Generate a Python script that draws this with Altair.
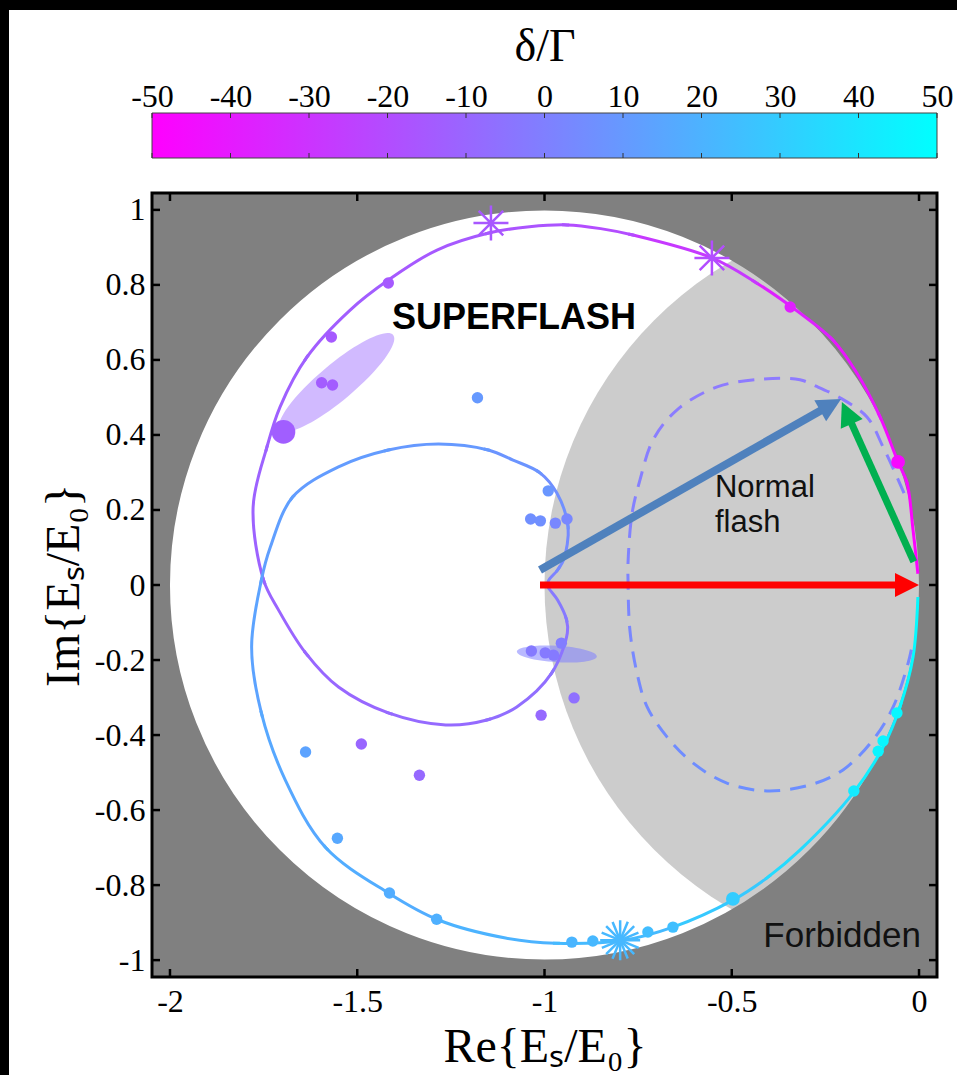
import math
import altair as alt
import pandas as pd

# ------------------------------------------------------------------ data
# theoretical trajectory of E_s/E_0 (colour = detuning delta/Gamma)
curve_re = [-0.003, -0.016, -0.032, -0.056, -0.104, -0.166, -0.230, -0.318, -0.435, -0.553,
            -0.764, -0.850, -0.940, -1.040, -1.146, -1.287, -1.417, -1.519, -1.634, -1.706,
            -1.741, -1.778, -1.750, -1.710, -1.638, -1.550, -1.417, -1.264, -1.154, -1.074,
            -0.981, -0.939, -0.941, -0.965, -0.990, -0.990, -0.965, -0.949, -0.937, -0.967,
            -1.012, -1.084, -1.150, -1.283, -1.417, -1.550, -1.672, -1.732, -1.756, -1.782,
            -1.756, -1.692, -1.585, -1.417, -1.283, -1.104, -0.971, -0.790, -0.657, -0.497,
            -0.405, -0.318, -0.176, -0.096, -0.051, -0.016, -0.003]
curve_im = [0.030, 0.147, 0.272, 0.328, 0.448, 0.565, 0.653, 0.725, 0.806, 0.872,
            0.933, 0.950, 0.960, 0.955, 0.939, 0.893, 0.813, 0.733, 0.608, 0.475,
            0.368, 0.208, 0.013, -0.067, -0.181, -0.272, -0.341, -0.373, -0.360, -0.325,
            -0.235, -0.128, -0.093, -0.040, -0.005, 0.010, 0.040, 0.067, 0.155, 0.245,
            0.299, 0.333, 0.360, 0.376, 0.360, 0.315, 0.235, 0.101, 0.013, -0.165,
            -0.341, -0.520, -0.699, -0.821, -0.893, -0.941, -0.955, -0.947, -0.912, -0.840,
            -0.780, -0.707, -0.555, -0.432, -0.325, -0.192, -0.032]
curve_delta = [-50, -49, -47, -46, -44, -42, -40, -38, -33, -28,
               -22, -20, -18, -17, -16, -15, -14, -13.5, -13, -12.5,
               -12, -11.5, -11, -10.5, -10, -9.5, -9, -8.5, -8, -7,
               -6, -5, -4, -3, -1, 1, 3, 4, 5, 6,
               7, 8, 9, 10, 10.5, 11, 12, 12.5, 13, 14,
               15, 16, 17, 18, 19, 20, 21, 23, 25, 30,
               32, 35, 41, 44, 46, 48, 50]

# dashed "normal flash" trajectory
dash_re = [-0.040, -0.059, -0.096, -0.139, -0.211, -0.275, -0.318, -0.417, -0.539, -0.646,
           -0.710, -0.745, -0.766, -0.777, -0.777, -0.772, -0.753, -0.726, -0.673, -0.603,
           -0.513, -0.406, -0.291, -0.203, -0.123, -0.069, -0.029, -0.019]
dash_im = [0.245, 0.288, 0.368, 0.448, 0.499, 0.530, 0.547, 0.549, 0.528, 0.467,
           0.387, 0.280, 0.192, 0.059, 0.013, -0.120, -0.235, -0.325, -0.405, -0.475,
           -0.528, -0.549, -0.533, -0.493, -0.413, -0.325, -0.208, -0.165]

# measured points
dot_re = [-1.417, -1.569, -1.595, -1.566, -1.697, -1.179, -0.990, -1.037, -1.011, -0.971,
          -0.940, -1.035, -0.998, -0.976, -0.955, -0.921, -1.009, -1.638, -1.489, -1.334,
          -1.553, -1.414, -1.288, -0.927, -0.871, -0.724, -0.657, -0.497, -0.174, -0.109,
          -0.096, -0.059, -0.056, -0.344]
dot_im = [0.805, 0.661, 0.539, 0.533, 0.408, 0.499, 0.251, 0.176, 0.171, 0.165,
          0.176, -0.176, -0.181, -0.187, -0.155, -0.301, -0.347, -0.445, -0.424, -0.507,
          -0.675, -0.821, -0.891, -0.952, -0.949, -0.925, -0.912, -0.837, -0.549, -0.443,
          -0.416, -0.341, 0.328, 0.741]
dot_delta = [-15, -15, -14, -14, -13, 10, 9, 6, 6, 3,
             3, -2, -2, -2, -1, -6, -9, 14, -10, -9,
             16, 18, 19, 21, 22, 24, 25, 30, 42, 46,
             46, 47, -47, -38]

# asterisk points
star_re = [-1.143, -0.553, -0.798]
star_im = [0.965, 0.872, -0.947]
star_delta = [-16, -20, 22]

# uncertainty ellipses (centre, semi-axes in data units, tilt in degrees ccw)
ellipse_re = [-1.555, -0.967]
ellipse_im = [0.540, -0.184]
ellipse_semi_major = [0.197, 0.107]
ellipse_semi_minor = [0.048, 0.022]
ellipse_tilt = [40.0, -3.5]

# regions: allowed disk |E_s + E_0| <= E_0 and normal-flash disk |E_s| <= E_0
allowed_center = [-1.0, 0.0]
normal_center = [0.0, 0.0]
disk_radius = 1.0

# phasor arrows
arrow_re0 = [-1.012, -1.012, -0.014]
arrow_im0 = [0.000, 0.040, 0.062]
arrow_re1 = [0.000, -0.208, -0.206]
arrow_im1 = [0.000, 0.496, 0.488]

x_ticks = [-2, -1.5, -1, -0.5, 0]
y_ticks = [-1, -0.8, -0.6, -0.4, -0.2, 0, 0.2, 0.4, 0.6, 0.8, 1]
cbar_ticks = [-50, -40, -30, -20, -10, 0, 10, 20, 30, 40, 50]

# ------------------------------------------------------------------ style / layout
W, H = 785, 784
PAD = {"left": 152, "top": 193, "right": 20, "bottom": 98}
XDOM = [-2.048, 0.048]
YDOM = [-1.045, 1.045]
KX = W / (XDOM[1] - XDOM[0])
KY = H / (YDOM[1] - YDOM[0])
SERIF = "Liberation Serif"
SANS = "Liberation Sans"
DARK = "#808080"
LIGHT = "#cccccc"
TICK_FONT = 32

DOT_SIZE = [130] * len(dot_re)
DOT_SIZE[4] = 560
DOT_SIZE[27] = 190
DOT_SIZE[32] = 190
STAR_SIZE = [1225, 1225, 1600]
BURST = [2]  # asterisk drawn as a denser burst
ARROW_COLOR = ["#ff0000", "#4f81bd", "#00b050"]
ARROW_WIDTH = [7, 8, 7]
ELLIPSE_COLOR = ["#9966ff", "#7f80ff"]
ELLIPSE_OPACITY = [0.45, 0.55]
ASTERISK = "M-1,0L1,0M0,-1L0,1M-0.7,-0.7L0.7,0.7M-0.7,0.7L0.7,-0.7"
HEAD = "M0,0L0.5,1L-0.5,1Z"
HEAD_LEN = 24
PIECE = 2  # segments per colour piece of the trajectory

xs = alt.Scale(domain=XDOM, nice=False, zero=False)
ys = alt.Scale(domain=YDOM, nice=False, zero=False)
cs = alt.Scale(domain=[-50, 50], range=["#ff00ff", "#00ffff"], interpolate="rgb")
cbs = alt.Scale(domain=[-50, 50], nice=False, zero=False)

NEG = "(datum.value < 0 ? '-' : '') + format(abs(datum.value), '~g')"
xa = alt.Axis(values=x_ticks, labelExpr=NEG, ticks=False, tickSize=0, domain=False, grid=False,
              labelFont=SERIF, labelFontSize=TICK_FONT, labelColor="black", labelPadding=9,
              labelOverlap=False, labelFlush=False,
              title="Re{Eₛ/E₀}", titleFont=SERIF, titleFontSize=48, titleFontWeight="normal",
              titleColor="black", titlePadding=6, zindex=1)
ya = alt.Axis(values=y_ticks, labelExpr=NEG, ticks=False, tickSize=0, domain=False, grid=False,
              labelFont=SERIF, labelFontSize=TICK_FONT, labelColor="black", labelPadding=7,
              labelOverlap=False, labelFlush=False,
              title="Im{Eₛ/E₀}", titleFont=SERIF, titleFontSize=48, titleFontWeight="normal",
              titleColor="black", titlePadding=6, zindex=1)
cba = alt.Axis(orient="top", offset=80, values=cbar_ticks, labelExpr=NEG, ticks=False, tickSize=0,
               domain=False, grid=False, labelFont=SERIF, labelFontSize=TICK_FONT,
               labelColor="black", labelPadding=0, labelOverlap=False, labelFlush=False,
               title="δ/Γ", titleFont=SERIF, titleFontSize=46, titleFontWeight="normal",
               titleColor="black", titlePadding=10, zindex=1)


def X(f):
    return alt.X(f, type="quantitative", scale=xs, axis=xa)


def Y(f):
    return alt.Y(f, type="quantitative", scale=ys, axis=ya)


color_d = alt.Color("d:Q", scale=cs, legend=None)
one = pd.DataFrame({"k": [0]})

# ------------------------------------------------------------------ layers
layers = []
# white figure background (inside the black frame)
layers.append(alt.Chart(one).mark_rect(color="white").encode(
    x=alt.value(-143), x2=alt.value(W + PAD["right"]),
    y=alt.value(-183), y2=alt.value(H + PAD["bottom"])))

# allowed disk (white), normal-flash disk (light grey), forbidden ring (dark grey)
# Vega circle symbols have radius sqrt(size)/2
layers.append(alt.Chart(pd.DataFrame({"re": [allowed_center[0]], "im": [allowed_center[1]]}))
              .mark_point(shape="circle", filled=True, color="white", opacity=1, strokeWidth=0,
                          size=(2 * disk_radius * KX) ** 2, clip=True)
              .encode(x=X("re"), y=Y("im")))
layers.append(alt.Chart(pd.DataFrame({"re": [normal_center[0]], "im": [normal_center[1]]}))
              .mark_point(shape="circle", filled=True, color=LIGHT, opacity=1, strokeWidth=0,
                          size=(2 * disk_radius * KX) ** 2, clip=True)
              .encode(x=X("re"), y=Y("im")))
layers.append(alt.Chart(pd.DataFrame({"re": [allowed_center[0]], "im": [allowed_center[1]]}))
              .mark_point(shape="circle", filled=False, color=DARK, opacity=1,
                          strokeWidth=disk_radius * KX,
                          size=(2 * 1.5 * disk_radius * KX) ** 2, clip=True)
              .encode(x=X("re"), y=Y("im")))

# ellipses
for i in range(len(ellipse_re)):
    ratio = ellipse_semi_minor[i] / ellipse_semi_major[i]
    shp = f"M-1,0A1,{ratio:.4f} 0 1,1 1,0A1,{ratio:.4f} 0 1,1 -1,0Z"
    layers.append(alt.Chart(pd.DataFrame({"re": [ellipse_re[i]], "im": [ellipse_im[i]]}))
                  .mark_point(shape=shp, filled=True, color=ELLIPSE_COLOR[i],
                              opacity=ELLIPSE_OPACITY[i], strokeWidth=0,
                              size=(2 * ellipse_semi_major[i] * KX) ** 2,
                              angle=(-ellipse_tilt[i]) % 360)
                  .encode(x=X("re"), y=Y("im")))

# colour-coded trajectory: smooth pieces drawn with one point of context on each side;
# the context parts are hidden with a dash pattern so that only the core is visible
n = len(curve_re)


def chord(a, b):
    return math.hypot((curve_re[b] - curve_re[a]) * KX, (curve_im[b] - curve_im[a]) * KY)


for s in range(0, n - 1, PIECE):
    e = min(s + PIECE, n - 1)
    j0, j1 = max(s - 1, 0), min(e + 1, n - 1)
    head = chord(j0, s) if j0 < s else 0.0
    core = sum(chord(j, j + 1) for j in range(s, e))
    gap = max(head - 2.5, 0.0)
    dash = [0, round(gap, 2), round(core + 5 + (head - gap), 2), 100000]
    dcol = sum(curve_delta[s:e + 1]) / (e - s + 1)
    piece = pd.DataFrame({"re": curve_re[j0:j1 + 1], "im": curve_im[j0:j1 + 1],
                          "i": list(range(j0, j1 + 1)), "d": [dcol] * (j1 - j0 + 1)})
    layers.append(alt.Chart(piece)
                  .mark_line(strokeWidth=3, interpolate="catmull-rom", strokeCap="butt",
                             strokeDash=dash)
                  .encode(x=X("re"), y=Y("im"), order=alt.Order("i:Q"), color=color_d))

# dashed trajectory
dash_grad = {"gradient": "linear", "x1": 0, "y1": 0, "x2": 0, "y2": 1,
             "stops": [{"offset": 0, "color": "#8e7bff"}, {"offset": 1, "color": "#6c8eff"}]}
layers.append(alt.Chart(pd.DataFrame({"re": dash_re, "im": dash_im, "i": list(range(len(dash_re)))}))
              .mark_line(stroke=dash_grad, strokeWidth=3, strokeDash=[16, 10],
                         interpolate="catmull-rom")
              .encode(x=X("re"), y=Y("im"), order=alt.Order("i:Q")))

# dots
layers.append(alt.Chart(pd.DataFrame({"re": dot_re, "im": dot_im, "d": dot_delta, "s": DOT_SIZE}))
              .mark_circle(opacity=1)
              .encode(x=X("re"), y=Y("im"), color=color_d, size=alt.Size("s:Q", scale=None)))
# asterisks
stars = pd.DataFrame({"re": star_re, "im": star_im, "d": star_delta, "s": STAR_SIZE})
layers.append(alt.Chart(stars)
              .mark_point(shape=ASTERISK, filled=False, opacity=1, strokeWidth=2.5)
              .encode(x=X("re"), y=Y("im"), color=color_d, size=alt.Size("s:Q", scale=None)))
layers.append(alt.Chart(stars.iloc[BURST])
              .mark_point(shape=ASTERISK, filled=False, opacity=1, strokeWidth=2.5, angle=22.5)
              .encode(x=X("re"), y=Y("im"), color=color_d, size=alt.Size("s:Q", scale=None)))

# arrows
rows = []
for i in range(len(arrow_re0)):
    dxp = (arrow_re1[i] - arrow_re0[i]) * KX
    dyp = (arrow_im1[i] - arrow_im0[i]) * KY
    L = math.hypot(dxp, dyp)
    ux, uy = dxp / L, dyp / L
    rows.append({
        "x0": arrow_re0[i], "y0": arrow_im0[i],
        "xs": arrow_re1[i] - ux * HEAD_LEN * 0.7 / KX,
        "ys": arrow_im1[i] - uy * HEAD_LEN * 0.7 / KY,
        "x1": arrow_re1[i], "y1": arrow_im1[i],
        "a": math.degrees(math.atan2(dxp, dyp)) % 360,
        "c": ARROW_COLOR[i], "w": ARROW_WIDTH[i]})
arr = pd.DataFrame(rows)
layers.append(alt.Chart(arr).mark_rule(strokeCap="butt").encode(
    x=X("x0"), y=Y("y0"), x2="xs:Q", y2="ys:Q",
    color=alt.Color("c:N", scale=None), strokeWidth=alt.StrokeWidth("w:Q", scale=None)))
layers.append(alt.Chart(arr).mark_point(shape=HEAD, filled=True, opacity=1, strokeWidth=0,
                                        size=(2 * HEAD_LEN) ** 2).encode(
    x=X("x1"), y=Y("y1"), color=alt.Color("c:N", scale=None),
    angle=alt.Angle("a:Q", scale=None)))

# labels
layers.append(alt.Chart(pd.DataFrame({"re": [-1.407], "im": [0.683], "t": ["SUPERFLASH"]}))
              .mark_text(font=SANS, fontSize=36, fontWeight="bold", align="left",
                         baseline="alphabetic", color="black")
              .encode(x=X("re"), y=Y("im"), text="t:N"))
layers.append(alt.Chart(pd.DataFrame({"re": [-0.545], "im": [0.235], "t": ["Normal\nflash"]}))
              .mark_text(font=SANS, fontSize=31, align="left", baseline="alphabetic",
                         color="#111111", lineBreak="\n", lineHeight=35)
              .encode(x=X("re"), y=Y("im"), text="t:N"))
layers.append(alt.Chart(pd.DataFrame({"re": [0.005], "im": [-0.965], "t": ["Forbidden"]}))
              .mark_text(font=SANS, fontSize=35, align="right", baseline="alphabetic", color="#111111")
              .encode(x=X("re"), y=Y("im"), text="t:N"))

# frame and inward ticks
layers.append(alt.Chart(one).mark_rect(filled=False, color="black", strokeWidth=3).encode(
    x=alt.value(0), x2=alt.value(W), y=alt.value(0), y2=alt.value(H)))
xt = pd.DataFrame({"v": x_ticks})
yt = pd.DataFrame({"v": y_ticks})
for a0, a1 in [(H, H - 8), (0, 8)]:
    layers.append(alt.Chart(xt).mark_rule(color="black", strokeWidth=2.5).encode(
        x=X("v"), y=alt.value(a0), y2=alt.value(a1)))
for a0, a1 in [(0, 8), (W, W - 8)]:
    layers.append(alt.Chart(yt).mark_rule(color="black", strokeWidth=2.5).encode(
        y=Y("v"), x=alt.value(a0), x2=alt.value(a1)))

main = alt.layer(*layers)

# ------------------------------------------------------------------ colour bar
cb_grad = {"gradient": "linear", "x1": 0, "y1": 0, "x2": 1, "y2": 0,
           "stops": [{"offset": 0, "color": "#ff00ff"}, {"offset": 1, "color": "#00ffff"}]}
cbar_layers = [
    alt.Chart(pd.DataFrame({"a": [cbar_ticks[0]], "b": [cbar_ticks[-1]]}))
    .mark_rect(fill=cb_grad, stroke="#444444", strokeWidth=1)
    .encode(x=alt.X("a:Q", scale=cbs, axis=cba), x2="b:Q", y=alt.value(-80), y2=alt.value(-35)),
]
ct = pd.DataFrame({"v": cbar_ticks})
for a0, a1 in [(-80, -75), (-40, -35)]:
    cbar_layers.append(alt.Chart(ct).mark_rule(color="#333333", strokeWidth=1).encode(
        x=alt.X("v:Q", scale=cbs, axis=cba), y=alt.value(a0), y2=alt.value(a1)))
cbar = alt.layer(*cbar_layers)

chart = (alt.layer(main, cbar)
         .resolve_scale(x="independent")
         .properties(width=W, height=H, padding=PAD, background="black",
                     autosize=alt.AutoSizeParams(type="none"))
         .configure_view(strokeWidth=0))

chart.save("out.html", embed_options={"renderer": "svg", "actions": False})
